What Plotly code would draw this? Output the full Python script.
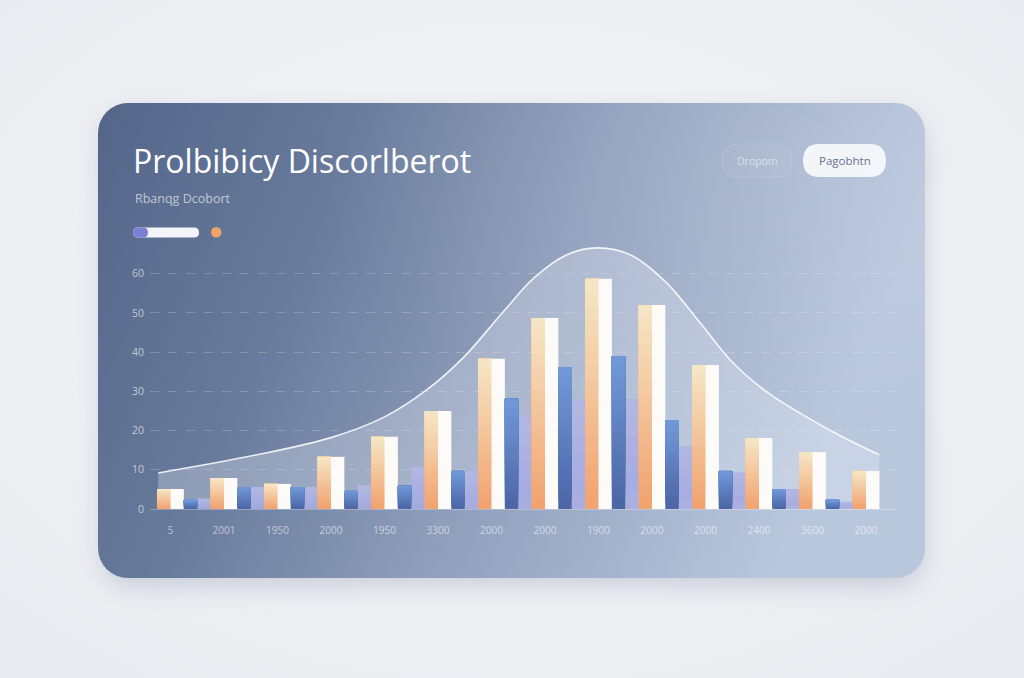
import base64
import plotly.graph_objects as go

# ---------------- data ----------------
x_labels = ["5", "2001", "1950", "2000", "1950", "3300", "2000",
            "2000", "1900", "2000", "2000", "2400", "3600", "2000"]
orange_vals = [5.1, 7.9, 6.4, 13.3, 18.4, 25.0, 38.3, 48.7, 58.7, 52.0, 36.7, 18.1, 14.5, 9.7]
white_vals = [5.1, 7.9, 6.4, 13.3, 18.4, 25.0, 38.3, 48.7, 58.7, 52.0, 36.7, 18.1, 14.5, 9.7]
blue_vals = [2.3, 5.6, 5.6, 4.6, 5.9, 9.7, 28.1, 36.2, 39.0, 22.7, 9.7, 5.1, 2.3, None]
lavender_vals = [2.6, 5.6, 5.6, 6.1, 10.7, 9.7, 24.0, 28.0, 28.0, 16.0, 9.2, 5.1, 1.8, None]
curve_x = [-0.23, 1.5, 3.0, 4.0, 4.8, 5.5, 6.2, 6.8, 7.4, 7.97, 8.6, 9.25,
           9.9, 10.5, 11.15, 11.8, 12.5, 13.25]
curve_y = [9.2, 13.5, 18.2, 23.5, 30.5, 39.0, 50.0, 59.0, 64.8, 66.6, 64.8, 58.0,
           47.5, 37.5, 29.8, 24.2, 18.8, 13.8]
y_ticks = [0, 10, 20, 30, 40, 50, 60]
y_ticktext = ["0", "10", "20", "30", "40", "50", "60"]

title_text = "Prolbibicy Discorlberot"
subtitle_text = "Rbanqg Dcobort"
btn1_text = "Dropom"
btn2_text = "Pagobhtn"

# ---------------- layout geometry ----------------
W, H = 1024, 678
L, R, T, B = 150, 129, 240, 169
PW, PH = W - L - R, H - T - B
x_range = [-0.383, 13.542]
y_range = [0, 68.6]


def px(x):
    return (x - L) / PW


def py(y):
    return (H - B - y) / PH


def rounded_path(x0, y0, x1, y1, r):
    pts = [
        ("M", [(x0 + r, y0)]),
        ("L", [(x1 - r, y0)]),
        ("Q", [(x1, y0), (x1, y0 + r)]),
        ("L", [(x1, y1 - r)]),
        ("Q", [(x1, y1), (x1 - r, y1)]),
        ("L", [(x0 + r, y1)]),
        ("Q", [(x0, y1), (x0, y1 - r)]),
        ("L", [(x0, y0 + r)]),
        ("Q", [(x0, y0), (x0 + r, y0)]),
    ]
    s = ""
    for cmd, ps in pts:
        s += cmd + " " + " ".join(f"{px(a):.5f},{py(b):.5f}" for a, b in ps) + " "
    return s + "Z"


# ---------------- background card (svg image) ----------------
svg = f"""<svg xmlns='http://www.w3.org/2000/svg' width='{W}' height='{H}' viewBox='0 0 {W} {H}'>
<defs>
<radialGradient id='bg' cx='50%' cy='45%' r='75%'>
<stop offset='0' stop-color='#f5f6f9'/><stop offset='1' stop-color='#e8eaef'/></radialGradient>
<linearGradient id='card' x1='0' y1='0' x2='1' y2='0.25'>
<stop offset='0' stop-color='#53668a'/>
<stop offset='0.3' stop-color='#687a9b'/>
<stop offset='0.6' stop-color='#8e9ebb'/>
<stop offset='1' stop-color='#b9c7dd'/></linearGradient>
<radialGradient id='glow' cx='85%' cy='10%' r='60%'>
<stop offset='0' stop-color='#ffffff' stop-opacity='0.12'/>
<stop offset='1' stop-color='#ffffff' stop-opacity='0'/></radialGradient>
<filter id='sh' x='-10%' y='-10%' width='120%' height='130%'><feGaussianBlur stdDeviation='12'/></filter>
</defs>
<rect width='{W}' height='{H}' fill='url(#bg)'/>
<rect x='102' y='114' width='822' height='472' rx='30' fill='#4a5a7c' opacity='0.22' filter='url(#sh)'/>
<rect x='98' y='103' width='827' height='475' rx='30' fill='url(#card)'/>
<rect x='98' y='103' width='827' height='475' rx='30' fill='url(#glow)'/>
</svg>"""
svg_uri = "data:image/svg+xml;base64," + base64.b64encode(svg.encode()).decode()

fig = go.Figure()

# ---------------- curve (main axes, below bars) ----------------
fig.add_trace(go.Scatter(
    x=curve_x, y=curve_y, mode="lines",
    line=dict(color="rgba(255,255,255,0.85)", width=1.6, shape="spline", smoothing=1.0),
    fill="tozeroy", fillcolor="rgba(235,240,248,0.30)",
    hoverinfo="skip", showlegend=False,
))


def lerp(c0, c1, t):
    return "#" + "".join(f"{int(round(a + (b - a) * t)):02x}" for a, b in zip(c0, c1))


def gradient_bars(vals, offset, c_bottom, c_top, n=14, opacity=1.0):
    for k in range(n):
        t = k / (n - 1)
        base = [None if v is None else v * k / n for v in vals]
        ys = [None if v is None else v - v * k / n for v in vals]
        fig.add_trace(go.Bar(
            x=list(range(len(vals))), y=ys, base=base,
            offset=offset, width=0.25,
            marker=dict(color=lerp(c_bottom, c_top, t), line=dict(width=0)),
            opacity=opacity,
            xaxis="x2", yaxis="y2", showlegend=False, hoverinfo="skip",
        ))


# lavender (behind, semi transparent)
gradient_bars(lavender_vals, 0.5, (166, 170, 226), (178, 184, 226), n=6, opacity=0.8)
# orange gradient
gradient_bars(orange_vals, -0.25, (242, 163, 112), (245, 229, 196), n=16)
# white
fig.add_trace(go.Bar(
    x=list(range(len(white_vals))), y=white_vals, offset=0.0, width=0.25,
    marker=dict(color="#fdfbf7", line=dict(width=0)),
    xaxis="x2", yaxis="y2", showlegend=False, hoverinfo="skip",
))
# blue gradient
gradient_bars(blue_vals, 0.25, (76, 102, 166), (112, 152, 216), n=14)

# ---------------- shapes ----------------
shapes = [
    dict(type="path", xref="paper", yref="paper", path=rounded_path(722, 144, 792, 177, 16.5),
         fillcolor="rgba(255,255,255,0.04)", line=dict(color="rgba(255,255,255,0.14)", width=1),
         layer="above"),
    dict(type="path", xref="paper", yref="paper", path=rounded_path(803, 144, 886, 177, 16.5),
         fillcolor="rgba(250,251,253,0.90)", line=dict(width=0), layer="above"),
    dict(type="path", xref="paper", yref="paper", path=rounded_path(133, 227.5, 199, 237.5, 5),
         fillcolor="#f4f5fb", line=dict(width=0), layer="above"),
    dict(type="path", xref="paper", yref="paper", path=rounded_path(133, 227.5, 148, 237.5, 5),
         fillcolor="#7b80d6", line=dict(width=0), layer="above"),
    dict(type="circle", xref="paper", yref="paper",
         x0=px(211), x1=px(221.5), y0=py(237.5), y1=py(227),
         fillcolor="#eea468", line=dict(width=0), layer="above"),
]

annotations = [
    dict(text=title_text, x=px(131), y=py(160), xref="paper", yref="paper",
         xanchor="left", yanchor="middle", showarrow=False,
         font=dict(family="Open Sans", size=32, weight=500, color="#ffffff")),
    dict(text=subtitle_text, x=px(133), y=py(198), xref="paper", yref="paper",
         xanchor="left", yanchor="middle", showarrow=False,
         font=dict(family="Open Sans", size=12.5, color="rgba(255,255,255,0.62)")),
    dict(text=btn1_text, x=px(757), y=py(160.5), xref="paper", yref="paper",
         xanchor="center", yanchor="middle", showarrow=False,
         font=dict(family="Open Sans", size=10.5, color="rgba(255,255,255,0.55)")),
    dict(text=btn2_text, x=px(844.5), y=py(160.5), xref="paper", yref="paper",
         xanchor="center", yanchor="middle", showarrow=False,
         font=dict(family="Open Sans", size=11.5, color="#6a7390")),
]

fig.update_layout(
    width=W, height=H,
    margin=dict(l=L, r=R, t=T, b=B, pad=0),
    paper_bgcolor="#eef0f4",
    plot_bgcolor="rgba(0,0,0,0)",
    barmode="overlay",
    showlegend=False,
    images=[dict(source=svg_uri, xref="paper", yref="paper",
                 x=-L / PW, y=1 + T / PH, sizex=W / PW, sizey=H / PH,
                 xanchor="left", yanchor="top", sizing="stretch", layer="below")],
    xaxis=dict(range=x_range, tickmode="array", tickvals=list(range(len(x_labels))),
               ticktext=x_labels, showgrid=False, zeroline=False,
               showline=True, linecolor="rgba(255,255,255,0.28)", linewidth=1,
               ticks="", ticklabelstandoff=12,
               tickfont=dict(family="Open Sans", size=10, color="rgba(255,255,255,0.58)"),
               fixedrange=True),
    yaxis=dict(range=y_range, tickmode="array", tickvals=y_ticks, ticktext=y_ticktext,
               showgrid=True, gridcolor="rgba(255,255,255,0.20)", griddash="dash",
               gridwidth=1, zeroline=False, showline=False, ticks="",
               ticklabelstandoff=5,
               tickfont=dict(family="Open Sans", size=10.5, color="rgba(255,255,255,0.62)"),
               fixedrange=True),
    xaxis2=dict(range=x_range, overlaying="x", visible=False, fixedrange=True),
    yaxis2=dict(range=y_range, overlaying="y", visible=False, fixedrange=True),
    shapes=shapes,
    annotations=annotations,
)

fig.write_html("out.html", config={"displayModeBar": False})
